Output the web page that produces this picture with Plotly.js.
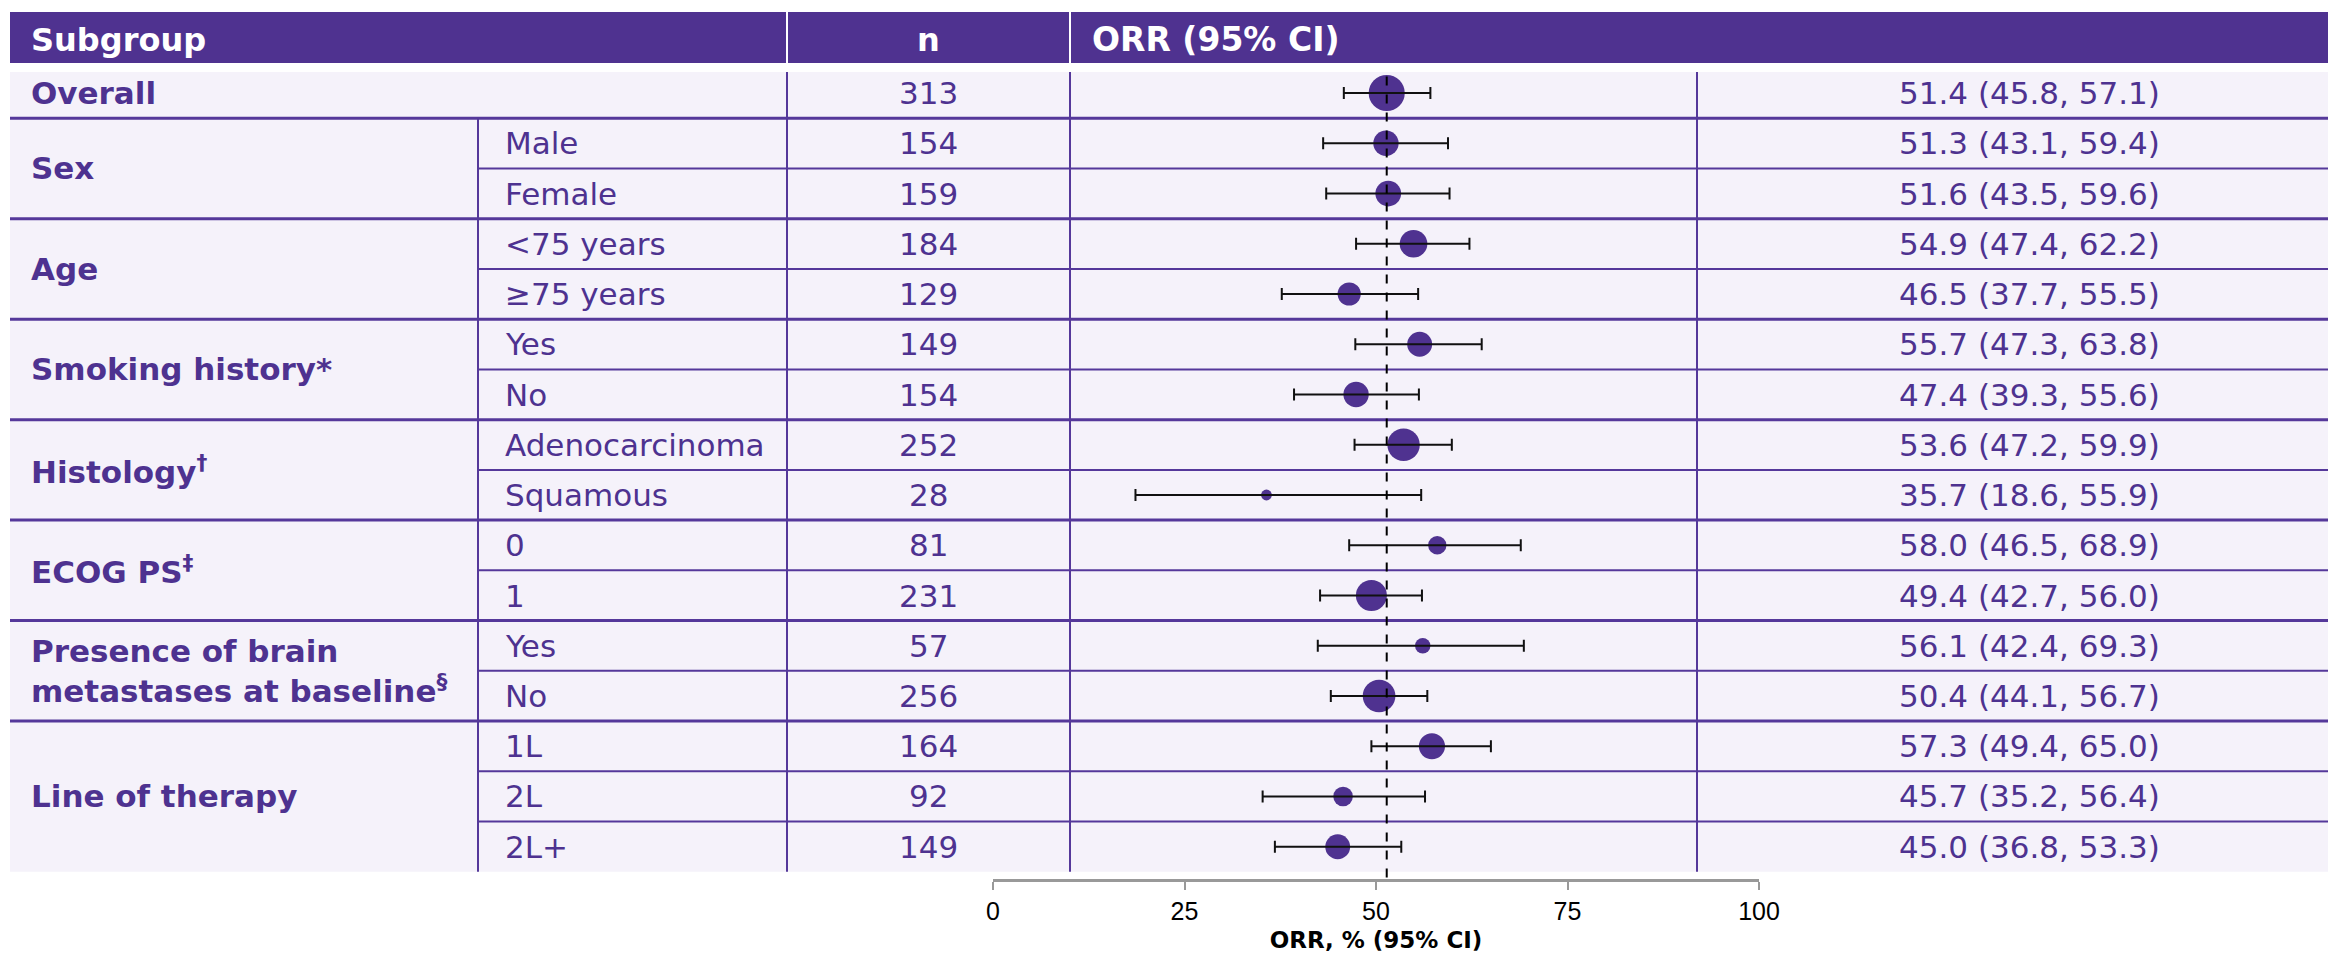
<!DOCTYPE html>
<html>
<head>
<meta charset="utf-8">
<script src="https://cdn.plot.ly/plotly-3.0.1.min.js"></script>
<style>html,body{margin:0;padding:0;background:#fff;}#chart{width:2328px;height:956px;}</style>
</head>
<body>
<div id="chart"></div>
<script>
// ---- data ----
const groupLabels = ["Overall", "Sex", "Age", "Smoking history*", "Histology<sup>†</sup>", "ECOG PS<sup>‡</sup>", "Presence of brain<br>metastases at baseline<sup>§</sup>", "Line of therapy"];
const groupSizes = [1, 2, 2, 2, 2, 2, 2, 3];
const subLabels = ["", "Male", "Female", "&lt;75 years", "≥75 years", "Yes", "No", "Adenocarcinoma", "Squamous", "0", "1", "Yes", "No", "1L", "2L", "2L+"];
const nValues = [313, 154, 159, 184, 129, 149, 154, 252, 28, 81, 231, 57, 256, 164, 92, 149];
const orr = [51.4, 51.3, 51.6, 54.9, 46.5, 55.7, 47.4, 53.6, 35.7, 58.0, 49.4, 56.1, 50.4, 57.3, 45.7, 45.0];
const ciLow = [45.8, 43.1, 43.5, 47.4, 37.7, 47.3, 39.3, 47.2, 18.6, 46.5, 42.7, 42.4, 44.1, 49.4, 35.2, 36.8];
const ciHigh = [57.1, 59.4, 59.6, 62.2, 55.5, 63.8, 55.6, 59.9, 55.9, 68.9, 56.0, 69.3, 56.7, 65.0, 56.4, 53.3];
const xTicks = [0, 25, 50, 75, 100];
const headers = ["Subgroup", "n", "ORR (95% CI)"];
const xTitle = "ORR, % (95% CI)";

// ---- styling / layout helpers ----
const W = 2328, H = 956;
const px = v => v / W;
const PURPLE = "#4F3290";
const TEXT = "#4E3290";
const ROWBG = "#F5F2FA";
const LINE = "#55389A";
const FONT = "DejaVu Sans, Verdana, sans-serif";
const rows = nValues.map((_, i) => i);

const shapes = [];
const annotations = [];

// header band & row background
shapes.push({type: "rect", xref: "paper", yref: "y", x0: px(10), x1: 1, y0: -1.612, y1: -0.597, fillcolor: PURPLE, line: {width: 0}, layer: "below"});
shapes.push({type: "rect", xref: "paper", yref: "y", x0: px(10), x1: 1, y0: -0.418, y1: 15.5, fillcolor: ROWBG, line: {width: 0}, layer: "below"});
// header dividers
[787, 1070].forEach(xp => shapes.push({type: "line", xref: "paper", yref: "y", x0: px(xp), x1: px(xp), y0: -1.612, y1: -0.597, line: {color: "#FFFFFF", width: 2}, layer: "below"}));
// vertical body dividers
[787, 1070, 1697].forEach(xp => shapes.push({type: "line", xref: "paper", yref: "y", x0: px(xp), x1: px(xp), y0: -0.418, y1: 15.5, line: {color: LINE, width: 2}, layer: "below"}));
shapes.push({type: "line", xref: "paper", yref: "y", x0: px(478), x1: px(478), y0: 0.5, y1: 15.5, line: {color: LINE, width: 2}, layer: "below"});

// horizontal lines & group/sub labels
let start = 0;
groupSizes.forEach((sz, g) => {
  const end = start + sz;
  if (g > 0) {
    shapes.push({type: "line", xref: "paper", yref: "y", x0: px(10), x1: 1, y0: start - 0.5, y1: start - 0.5, line: {color: LINE, width: 3}, layer: "below"});
  }
  for (let r = start + 1; r < end; r++) {
    shapes.push({type: "line", xref: "paper", yref: "y", x0: px(478), x1: 1, y0: r - 0.5, y1: r - 0.5, line: {color: LINE, width: 2}, layer: "below"});
  }
  annotations.push({xref: "paper", yref: "y", x: px(29), y: (start + end - 1) / 2, text: "<b>" + groupLabels[g] + "</b>", showarrow: false, xanchor: "left", yanchor: "middle", align: "left", font: {family: FONT, size: 31, color: TEXT}});
  start = end;
});

rows.forEach(r => {
  if (subLabels[r]) {
    annotations.push({xref: "paper", yref: "y", x: px(503), y: r, text: subLabels[r], showarrow: false, xanchor: "left", yanchor: "middle", font: {family: FONT, size: 31, color: TEXT}});
  }
  annotations.push({xref: "paper", yref: "y", x: px(928), y: r, text: String(nValues[r]), showarrow: false, xanchor: "center", yanchor: "middle", font: {family: FONT, size: 31, color: TEXT}});
  annotations.push({xref: "paper", yref: "y", x: px(2029), y: r, text: orr[r].toFixed(1) + " (" + ciLow[r].toFixed(1) + ", " + ciHigh[r].toFixed(1) + ")", showarrow: false, xanchor: "center", yanchor: "middle", font: {family: FONT, size: 31, color: TEXT}});
});

// header texts
annotations.push({xref: "paper", yref: "y", x: px(29), y: -1.06, text: "<b>" + headers[0] + "</b>", showarrow: false, xanchor: "left", yanchor: "middle", font: {family: FONT, size: 32, color: "#FFFFFF"}});
annotations.push({xref: "paper", yref: "y", x: px(928), y: -1.06, text: "<b>" + headers[1] + "</b>", showarrow: false, xanchor: "center", yanchor: "middle", font: {family: FONT, size: 32, color: "#FFFFFF"}});
annotations.push({xref: "paper", yref: "y", x: px(1090), y: -1.06, text: "<b>" + headers[2] + "</b>", showarrow: false, xanchor: "left", yanchor: "middle", font: {family: FONT, size: 33, color: "#FFFFFF"}});

// dashed reference line at overall ORR
shapes.push({type: "line", xref: "x", yref: "y", x0: orr[0], x1: orr[0], y0: -0.33, y1: 15.642, line: {color: "#000000", width: 2, dash: "dash"}, layer: "above"});

const traceMarkers = {
  type: "scatter", mode: "markers", x: orr, y: rows,
  marker: {size: nValues, sizemode: "area", sizeref: 0.48, color: PURPLE, opacity: 1, line: {width: 0}},
  hoverinfo: "skip", showlegend: false, cliponaxis: false
};
const traceCI = {
  type: "scatter", mode: "markers", x: orr, y: rows,
  marker: {size: 1, opacity: 0},
  error_x: {type: "data", symmetric: false, array: ciHigh.map((h, i) => h - orr[i]), arrayminus: orr.map((o, i) => o - ciLow[i]), color: "#111111", thickness: 2, width: 6},
  hoverinfo: "skip", showlegend: false, cliponaxis: false
};

const layout = {
  width: W, height: H,
  margin: {l: 0, r: 0, t: 0, b: 77, pad: 0},
  paper_bgcolor: "#FFFFFF", plot_bgcolor: "rgba(0,0,0,0)",
  showlegend: false,
  xaxis: {
    domain: [px(993), px(1759)], range: [0, 100], tickvals: xTicks, ticktext: xTicks.map(String),
    ticks: "outside", ticklen: 8, tickwidth: 2, tickcolor: "#999999",
    showline: true, linecolor: "#999999", linewidth: 3,
    showgrid: false, zeroline: false, fixedrange: true,
    tickfont: {family: "Liberation Sans, Arial, sans-serif", size: 25, color: "#000000"},
    title: {text: "<b>" + xTitle + "</b>", font: {family: FONT, size: 23, color: "#000000"}, standoff: 8}
  },
  yaxis: {range: [15.642, -1.851], visible: false, fixedrange: true, showgrid: false, zeroline: false},
  shapes: shapes,
  annotations: annotations
};

Plotly.newPlot("chart", [traceMarkers, traceCI], layout, {displayModeBar: false, staticPlot: true});
</script>
</body>
</html>
